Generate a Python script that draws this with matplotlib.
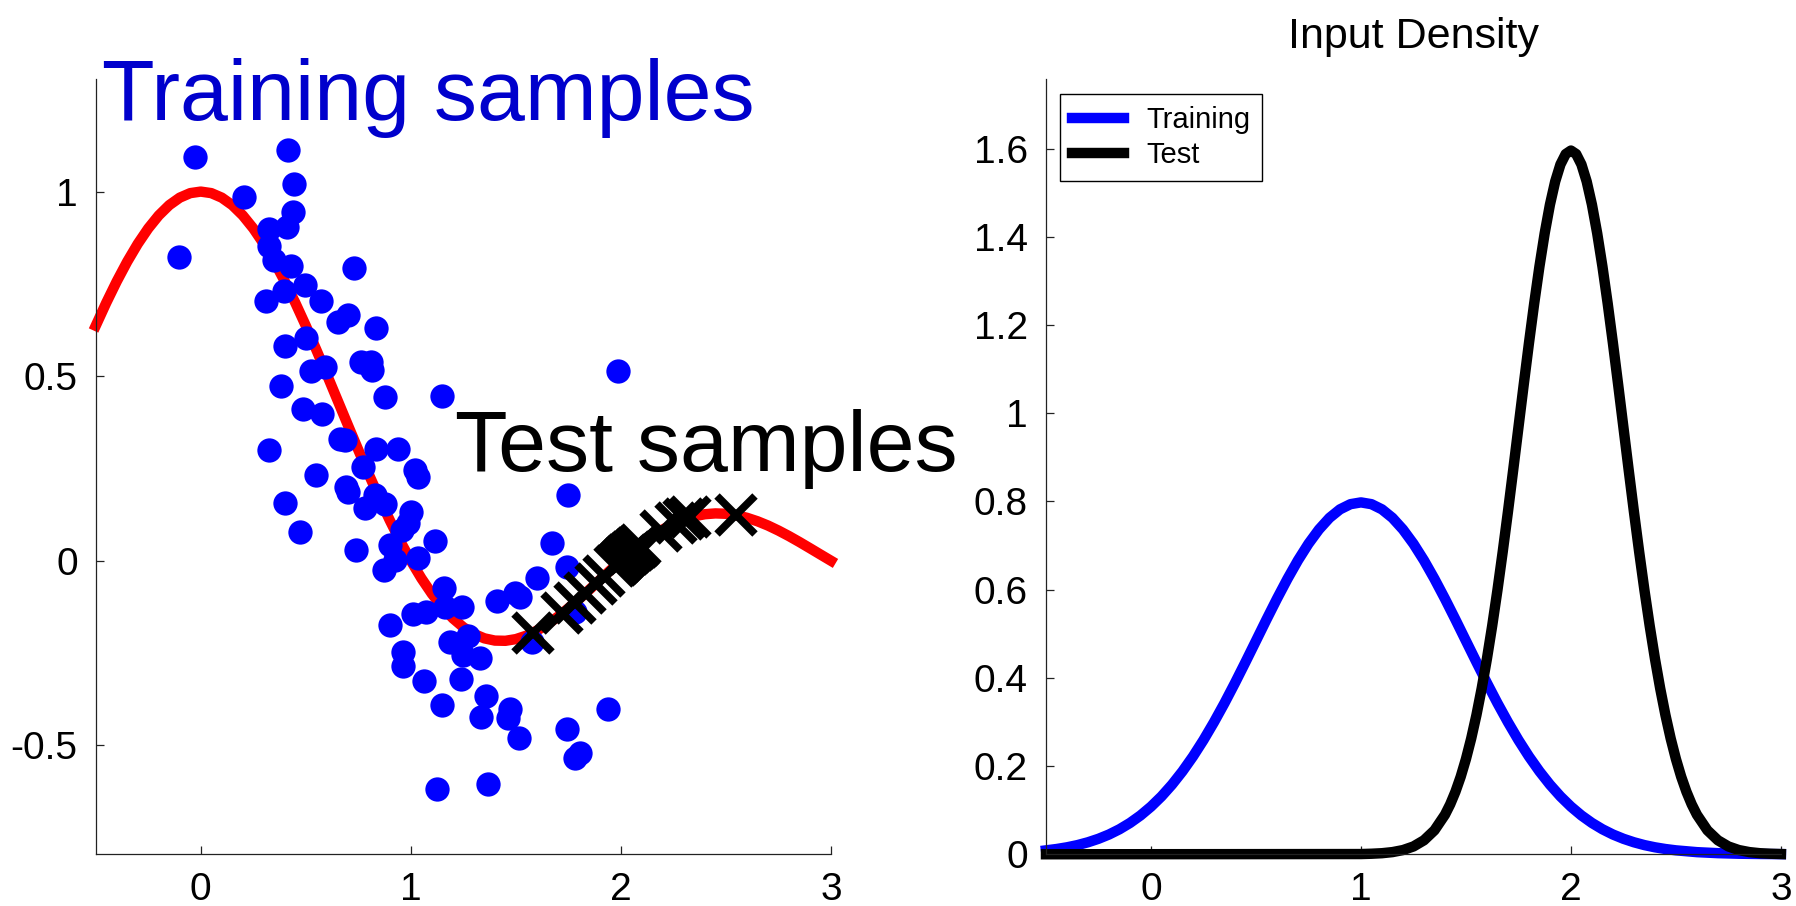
import matplotlib
matplotlib.use("Agg")
import matplotlib.pyplot as plt
from matplotlib.ticker import FormatStrFormatter

plt.rcParams['font.family'] = ['Liberation Sans', 'DejaVu Sans']
plt.rcParams['axes.unicode_minus'] = False

# -------------------------------------------------------
# Data
# -------------------------------------------------------
# true function, left panel
curve_x = [-0.5, -0.45, -0.4, -0.35, -0.3, -0.25, -0.2, -0.15, -0.1, -0.05,
           0.0, 0.05, 0.1, 0.15, 0.2, 0.25, 0.3, 0.35, 0.4, 0.45, 0.5, 0.55,
           0.6, 0.65, 0.7, 0.75, 0.8, 0.85, 0.9, 0.95, 1.0, 1.05, 1.1, 1.15,
           1.2, 1.25, 1.3, 1.35, 1.4, 1.45, 1.5, 1.55, 1.6, 1.65, 1.7, 1.75,
           1.8, 1.85, 1.9, 1.95, 2.0, 2.05, 2.1, 2.15, 2.2, 2.25, 2.3, 2.35,
           2.4, 2.45, 2.5, 2.55, 2.6, 2.65, 2.7, 2.75, 2.8, 2.85, 2.9, 2.95,
           3.0]
curve_y = [0.6366, 0.6987, 0.7568, 0.8103, 0.8584, 0.9003, 0.9355, 0.9634,
           0.9836, 0.9959, 1.0, 0.9959, 0.9836, 0.9634, 0.9355, 0.9003,
           0.8584, 0.8103, 0.7568, 0.6987, 0.6366, 0.5716, 0.5046, 0.4363,
           0.3679, 0.3001, 0.2339, 0.1700, 0.1093, 0.0524, 0.0, -0.0474,
           -0.0894, -0.1257, -0.1559, -0.1801, -0.1981, -0.2101, -0.2162,
           -0.2168, -0.2122, -0.2028, -0.1892, -0.1719, -0.1515, -0.1286,
           -0.1039, -0.0781, -0.0518, -0.0255, 0.0, 0.0243, 0.0468, 0.0672,
           0.0850, 0.1000, 0.1120, 0.1207, 0.1261, 0.1283, 0.1273, 0.1233,
           0.1164, 0.1070, 0.0954, 0.0818, 0.0668, 0.0507, 0.0339, 0.0169,
           0.0]

train_x = [-0.026, 0.415, 0.446, 0.440, 0.411, 0.324, 0.324, 0.348, 0.430,
           0.208, -0.103, 0.728, 0.311, 0.396, 0.494, 0.574, 0.653, 0.701,
           0.836, 0.502, 0.399, 0.765, 0.812, 0.817, 0.526, 0.590, 0.876,
           1.150, 0.383, 0.489, 0.579, 0.661, 0.685, 0.327, 0.836, 0.940,
           0.773, 1.019, 1.032, 0.547, 0.693, 0.701, 0.828, 0.876, 0.784,
           0.403, 1.003, 0.988, 0.956, 0.470, 1.115, 0.738, 0.900, 0.924,
           0.873, 1.032, 1.159, 1.409, 1.011, 1.072, 1.162, 1.242, 0.900,
           1.186, 1.274, 1.250, 1.329, 0.964, 0.964, 1.064, 1.239, 1.358,
           1.334, 1.146, 1.473, 1.123, 1.366, 1.985, 1.746, 1.672, 1.743,
           1.600, 1.497, 1.520, 1.576, 1.783, 1.462, 1.513, 1.743, 1.939,
           1.783, 1.805]
train_y = [1.093, 1.114, 1.021, 0.944, 0.904, 0.899, 0.854, 0.814, 0.798,
           0.985, 0.824, 0.793, 0.705, 0.731, 0.746, 0.705, 0.647, 0.665,
           0.631, 0.603, 0.582, 0.539, 0.539, 0.516, 0.514, 0.525, 0.444,
           0.446, 0.474, 0.410, 0.397, 0.331, 0.327, 0.300, 0.304, 0.304,
           0.253, 0.246, 0.227, 0.231, 0.200, 0.187, 0.178, 0.154, 0.142,
           0.156, 0.133, 0.101, 0.083, 0.079, 0.054, 0.029, 0.043, 0.002,
           -0.025, 0.007, -0.074, -0.108, -0.145, -0.138, -0.124, -0.124,
           -0.174, -0.220, -0.203, -0.255, -0.264, -0.246, -0.286, -0.325,
           -0.321, -0.366, -0.422, -0.390, -0.402, -0.618, -0.605, 0.514,
           0.178, 0.047, -0.016, -0.047, -0.088, -0.097, -0.219, -0.138,
           -0.426, -0.480, -0.456, -0.402, -0.534, -0.520]

test_x = [1.58, 1.72, 1.78, 1.83, 1.88, 1.92, 1.97, 1.98, 1.99, 2.00, 2.01,
          2.02, 2.03, 2.04, 2.05, 2.06, 2.07, 2.08, 2.09, 2.19, 2.26, 2.30,
          2.33, 2.55]
test_y = [-0.195, -0.1426, -0.1140, -0.0885, -0.0623, -0.0412, -0.0152,
          -0.0101, -0.0050, 0.0, 0.0050, 0.0099, 0.0148, 0.0196, 0.0243,
          0.0290, 0.0335, 0.0381, 0.0425, 0.0817, 0.1027, 0.1120, 0.1176,
          0.1233]

# input densities, right panel
dens_train_x = [-0.5, -0.45, -0.4, -0.35, -0.3, -0.25, -0.2, -0.15, -0.1,
                -0.05, 0.0, 0.05, 0.1, 0.15, 0.2, 0.25, 0.3, 0.35, 0.4, 0.45,
                0.5, 0.55, 0.6, 0.65, 0.7, 0.75, 0.8, 0.85, 0.9, 0.95, 1.0,
                1.05, 1.1, 1.15, 1.2, 1.25, 1.3, 1.35, 1.4, 1.45, 1.5, 1.55,
                1.6, 1.65, 1.7, 1.75, 1.8, 1.85, 1.9, 1.95, 2.0, 2.05, 2.1,
                2.15, 2.2, 2.25, 2.3, 2.35, 2.4, 2.45, 2.5, 2.6, 2.7, 2.8,
                2.9, 3.0]
dens_train_y = [0.0089, 0.0119, 0.0158, 0.0208, 0.0272, 0.0351, 0.0448,
                0.0567, 0.0710, 0.0880, 0.1080, 0.1312, 0.1579, 0.1881,
                0.2218, 0.2590, 0.2995, 0.3427, 0.3884, 0.4357, 0.4839,
                0.5322, 0.5794, 0.6245, 0.6665, 0.7041, 0.7365, 0.7628,
                0.7821, 0.7939, 0.7979, 0.7939, 0.7821, 0.7628, 0.7365,
                0.7041, 0.6665, 0.6245, 0.5794, 0.5322, 0.4839, 0.4357,
                0.3884, 0.3427, 0.2995, 0.2590, 0.2218, 0.1881, 0.1579,
                0.1312, 0.1080, 0.0880, 0.0710, 0.0567, 0.0448, 0.0351,
                0.0272, 0.0208, 0.0158, 0.0119, 0.0089, 0.0048, 0.0025,
                0.0012, 0.0006, 0.0003]

dens_test_x = [-0.5, 1.00, 1.05, 1.10, 1.15, 1.20, 1.25, 1.30, 1.35, 1.40,
               1.425, 1.45, 1.475, 1.50, 1.525, 1.55, 1.575, 1.60, 1.625,
               1.65, 1.675, 1.70, 1.725, 1.75, 1.775, 1.80, 1.825, 1.85,
               1.875, 1.90, 1.925, 1.95, 1.975, 2.00, 2.025, 2.05, 2.075,
               2.10, 2.125, 2.15, 2.175, 2.20, 2.225, 2.25, 2.275, 2.30,
               2.325, 2.35, 2.375, 2.40, 2.425, 2.45, 2.475, 2.50, 2.525,
               2.55, 2.575, 2.60, 2.65, 2.70, 2.75, 2.80, 2.85, 2.90, 2.95,
               3.00]
dens_test_y = [0.0, 0.0005, 0.0012, 0.0024, 0.0049, 0.0095, 0.0177, 0.0317,
               0.0543, 0.0896, 0.1133, 0.1419, 0.1759, 0.2160, 0.2625,
               0.3158, 0.3762, 0.4437, 0.5181, 0.5989, 0.6855, 0.7767,
               0.8714, 0.9679, 1.0644, 1.1588, 1.2490, 1.3329, 1.4083,
               1.4731, 1.5256, 1.5642, 1.5878, 1.5958, 1.5878, 1.5642,
               1.5256, 1.4731, 1.4083, 1.3329, 1.2490, 1.1588, 1.0644,
               0.9679, 0.8714, 0.7767, 0.6855, 0.5989, 0.5181, 0.4437,
               0.3762, 0.3158, 0.2625, 0.2160, 0.1759, 0.1419, 0.1133,
               0.0896, 0.0543, 0.0317, 0.0177, 0.0095, 0.0049, 0.0024,
               0.0012, 0.0005]

left_yticks = [-0.5, 0, 0.5, 1]
right_yticks = [0, 0.2, 0.4, 0.6, 0.8, 1.0, 1.2, 1.4, 1.6]
xticks = [0, 1, 2, 3]


def style_axes(ax):
    for side in ("top", "right"):
        ax.spines[side].set_visible(False)
    for side in ("left", "bottom"):
        ax.spines[side].set_linewidth(0.9)
        ax.spines[side].set_color("#222222")
    ax.tick_params(direction="in", length=6, width=0.9, labelsize=28,
                   pad=13, color="#222222")
    ax.xaxis.set_major_formatter(FormatStrFormatter("%g"))
    ax.yaxis.set_major_formatter(FormatStrFormatter("%g"))


fig = plt.figure(figsize=(17.96, 9.06), dpi=100)

# ---- left panel: regression samples
ax1 = fig.add_axes([0.0533, 0.0571, 0.4094, 0.8557])
ax1.plot(curve_x, curve_y, color="red", lw=7.5, zorder=1, clip_on=False,
         solid_joinstyle="round")
ax1.plot(train_x, train_y, "o", color="blue", ms=17.5, mew=0, zorder=2)
ax1.plot(test_x, test_y, "x", color="black", ms=27, mew=5.5, zorder=3)
ax1.set_xlim(-0.5, 3)
ax1.set_ylim(-0.795, 1.305)
ax1.set_xticks(xticks)
ax1.set_yticks(left_yticks)
style_axes(ax1)
ax1.text(-0.47, 1.194, "Training samples", color="#0000cc", fontsize=62,
         va="baseline", ha="left", zorder=4)
ax1.text(1.21, 0.243, "Test samples", color="black", fontsize=62,
         va="baseline", ha="left", zorder=4)

# ---- right panel: input densities
ax2 = fig.add_axes([0.5824, 0.0571, 0.4092, 0.8557])
ax2.plot(dens_train_x, dens_train_y, color="blue", lw=7.5, label="Training",
         clip_on=False, solid_joinstyle="round")
ax2.plot(dens_test_x, dens_test_y, color="black", lw=7.5, label="Test",
         clip_on=False, solid_joinstyle="round")
ax2.set_xlim(-0.5, 3)
ax2.set_ylim(0, 1.758)
ax2.set_xticks(xticks)
ax2.set_yticks(right_yticks)
style_axes(ax2)
ax2.set_title("Input Density", fontsize=31, pad=22)
leg = ax2.legend(loc="upper left", bbox_to_anchor=(1060 / 1796, 1 - 94.3 / 906),
                 bbox_transform=fig.transFigure, borderaxespad=0, fontsize=21,
                 handlelength=1.8, handletextpad=0.75, borderpad=0.4,
                 labelspacing=0.25, fancybox=False, framealpha=1)
leg.get_frame().set_edgecolor("black")
leg.get_frame().set_linewidth(1.0)

fig.savefig("out.png", dpi=100)
